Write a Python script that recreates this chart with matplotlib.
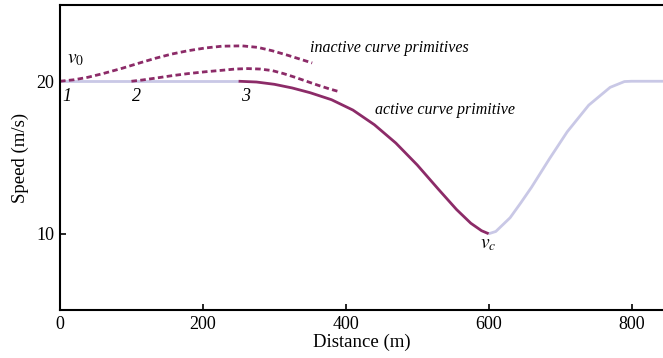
import numpy as np
import matplotlib
matplotlib.use("Agg")
import matplotlib.pyplot as plt

plt.rcParams['font.family'] = ['Liberation Serif', 'DejaVu Serif']
plt.rcParams['mathtext.fontset'] = 'stix'

# --- data ---
# flat start (light) and the active primitive (dark)
flat_x = [0, 250]
flat_v = [20, 20]

active_x = [250, 275, 300, 325, 350, 380, 410, 440, 470, 500, 530, 555, 575, 590, 600]
active_v = [20.0, 19.95, 19.8, 19.56, 19.25, 18.79, 18.11, 17.15, 15.95, 14.51, 12.9,
            11.59, 10.69, 10.2, 10.0]

# recovery after the curve (light)
return_x = [600, 610, 630, 645, 660, 685, 710, 740, 770, 790, 800, 845]
return_v = [10.0, 10.15, 11.05, 12.03, 13.05, 14.91, 16.69, 18.43, 19.6, 19.98, 20, 20]

# inactive primitives (dashed)
inact1_x = [0, 20, 39, 60, 87, 110, 133, 156, 179, 203, 227, 255, 277, 297, 319, 336, 353]
inact1_v = [20, 20.1, 20.26, 20.5, 20.85, 21.18, 21.5, 21.78, 22.0, 22.18, 22.3, 22.32,
            22.22, 22.0, 21.7, 21.45, 21.2]

inact2_x = [100, 115, 133, 156, 179, 203, 227, 245, 263, 280, 297, 313, 329, 345, 361, 377, 392]
inact2_v = [20, 20.08, 20.2, 20.36, 20.5, 20.62, 20.72, 20.8, 20.83, 20.8, 20.7, 20.5,
            20.26, 20.0, 19.74, 19.5, 19.3]

DARK = "#8c2b68"
LIGHT = "#c9c8e6"

fig = plt.figure(figsize=(6.63, 3.58), dpi=100)
ax = fig.add_axes([60 / 663, 1 - 310 / 358, 603 / 663, 305 / 358])

ax.plot(flat_x, flat_v, color=LIGHT, lw=2.0, solid_capstyle='butt')
ax.plot(return_x, return_v, color=LIGHT, lw=2.0, solid_capstyle='butt')
ax.plot(active_x, active_v, color=DARK, lw=2.0, solid_capstyle='butt')
ax.plot(inact1_x, inact1_v, color=DARK, lw=2.0, linestyle=(0, (2.0, 1.2)))
ax.plot(inact2_x, inact2_v, color=DARK, lw=2.0, linestyle=(0, (2.0, 1.2)))

# annotations
ax.text(10, 21.45, r'$v_0$', fontsize=14, va='center', ha='left')
ax.text(599, 9.3, r'$v_c$', fontsize=14, va='center', ha='center')
for lbl, xx in [("1", 3), ("2", 101), ("3", 254)]:
    ax.text(xx, 19.55, lbl, fontsize=13, style='italic', va='top', ha='left')
ax.text(350, 22.2, "inactive curve primitives", fontsize=11.5, style='italic', va='center')
ax.text(441, 18.1, "active curve primitive", fontsize=11.5, style='italic', va='center')

ax.set_xlim(0, 844)
ax.set_ylim(5, 25)
ax.set_xticks([0, 200, 400, 600, 800])
ax.set_yticks([10, 20])
ax.tick_params(direction='in', length=4, width=1.2, labelsize=13, pad=4)
ax.spines['right'].set_visible(False)
for s in ['left', 'bottom', 'top']:
    ax.spines[s].set_linewidth(1.5)

ax.set_xlabel("Distance (m)", fontsize=13.5, labelpad=1)
ax.set_ylabel("Speed (m/s)", fontsize=13.5, labelpad=5)

fig.savefig("out.png", dpi=100)
